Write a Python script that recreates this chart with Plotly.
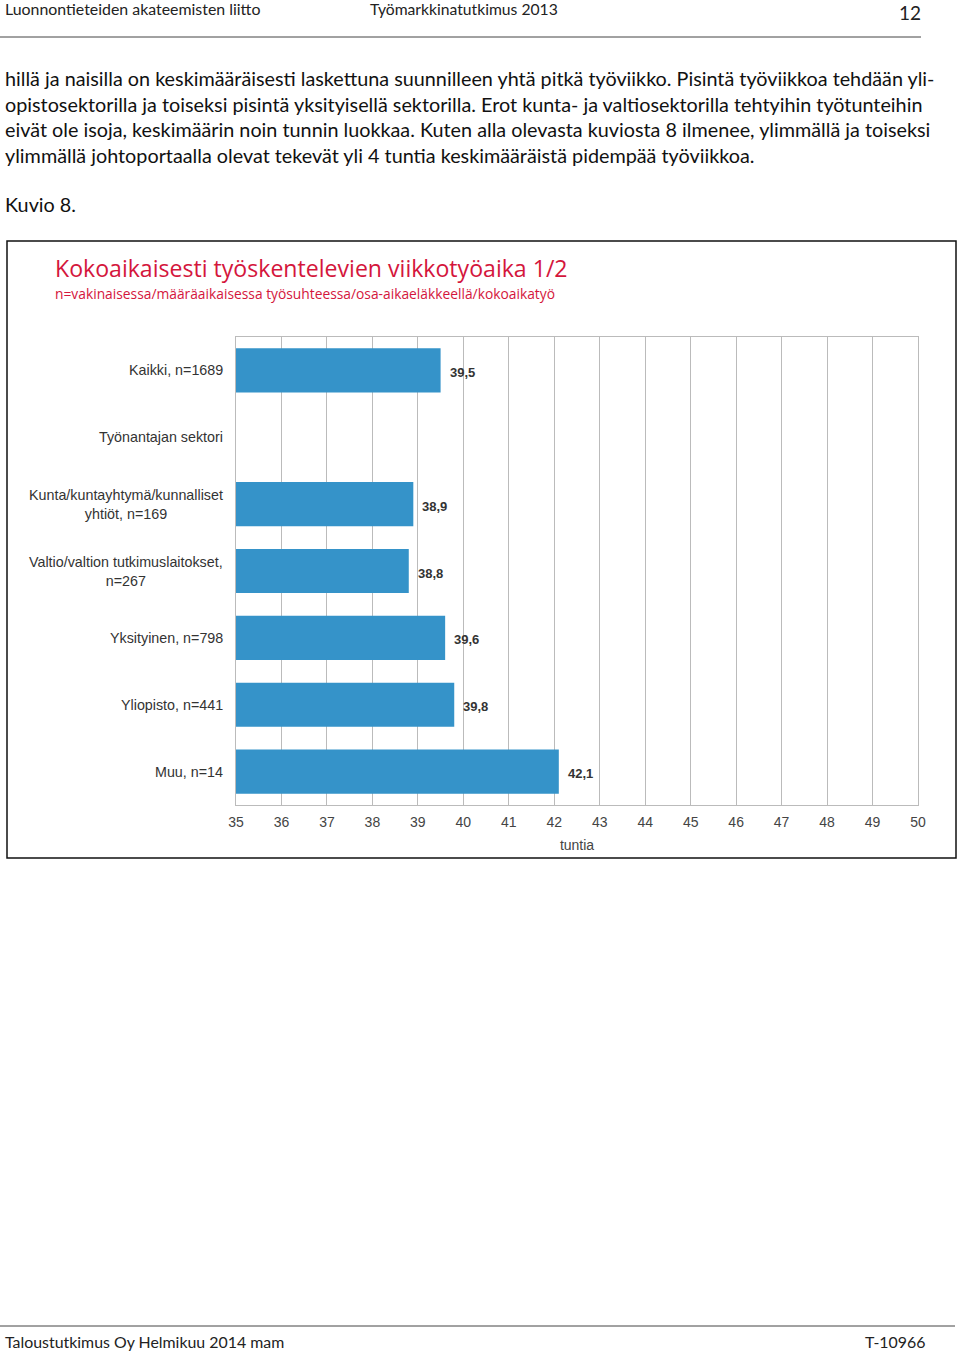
import plotly.graph_objects as go

# Data
categories = [
    "Kaikki, n=1689",
    "Työnantajan sektori",
    "Kunta/kuntayhtymä/kunnalliset<br>yhtiöt, n=169",
    "Valtio/valtion tutkimuslaitokset,<br>n=267",
    "Yksityinen, n=798",
    "Yliopisto, n=441",
    "Muu, n=14",
]
hours = [39.5, None, 38.9, 38.8, 39.6, 39.8, 42.1]
tick_values = list(range(35, 51))

paragraph = [
    "hillä ja naisilla on keskimääräisesti laskettuna suunnilleen yhtä pitkä työviikko. Pisintä työviikkoa tehdään yli-",
    "opistosektorilla ja toiseksi pisintä yksityisellä sektorilla. Erot kunta- ja valtiosektorilla tehtyihin työtunteihin",
    "eivät ole isoja, keskimäärin noin tunnin luokkaa. Kuten alla olevasta kuviosta 8 ilmenee, ylimmällä ja toiseksi",
    "ylimmällä johtoportaalla olevat tekevät yli 4 tuntia keskimääräistä pidempää työviikkoa.",
]

W, H = 960, 1352
BLUE = "#3593C9"
RED = "#D4163C"
PAGE_FONT = "Lato, Open Sans, sans-serif"
CHART_FONT = "Liberation Sans, Arial, sans-serif"


def px(x):
    return x / W


def py(y):
    return 1 - y / H


fig = go.Figure()

fig.add_trace(go.Bar(
    x=hours,
    y=categories,
    orientation="h",
    marker=dict(color=BLUE, line=dict(width=0)),
    width=0.66,
    showlegend=False,
    hoverinfo="x+y",
))

annotations = []

# value labels next to the bars
for cat, v in zip(categories, hours):
    if v is None:
        continue
    annotations.append(dict(
        x=v, y=cat, xref="x", yref="y",
        text="<b>" + f"{v:.1f}".replace(".", ",") + "</b>",
        xanchor="left", yanchor="middle", xshift=7, yshift=-2,
        showarrow=False,
        font=dict(family="Liberation Sans Narrow, " + CHART_FONT, size=13, color="#333333"),
    ))

# category labels (centered multi-line like the original)
for cat in categories:
    annotations.append(dict(
        x=px(225), y=cat, xref="paper", yref="y",
        text=cat, xanchor="right", yanchor="middle", align="center",
        showarrow=False,
        font=dict(family=CHART_FONT, size=14.3, color="#333333"),
    ))

# page header
annotations += [
    dict(x=px(3), y=py(9), text="Luonnontieteiden akateemisten liitto",
         font=dict(family=PAGE_FONT, size=15.9, color="#222222"), xanchor="left"),
    dict(x=px(368), y=py(9), text="Työmarkkinatutkimus 2013",
         font=dict(family=PAGE_FONT, size=15.7, color="#222222"), xanchor="left"),
    dict(x=px(923), y=py(12), text="12",
         font=dict(family=PAGE_FONT, size=19, color="#222222"), xanchor="right"),
]

# paragraph
for i, line in enumerate(paragraph):
    annotations.append(dict(
        x=px(3), y=py(78 + i * 25.7), text=line, xanchor="left",
        font=dict(family=PAGE_FONT, size=19.8, color="#111111"),
    ))
annotations.append(dict(
    x=px(3), y=py(204), text="Kuvio 8.", xanchor="left",
    font=dict(family=PAGE_FONT, size=19.8, color="#111111"),
))

# chart titles
annotations += [
    dict(x=px(53), y=py(268), text="Kokoaikaisesti työskentelevien viikkotyöaika 1/2",
         xanchor="left", font=dict(family="Open Sans, sans-serif", size=23.1, color=RED)),
    dict(x=px(53), y=py(293), text="n=vakinaisessa/määräaikaisessa työsuhteessa/osa-aikaeläkkeellä/kokoaikatyö",
         xanchor="left", font=dict(family="Open Sans, sans-serif", size=13.8, color=RED)),
]

# footer
annotations += [
    dict(x=px(3), y=py(1341), text="Taloustutkimus Oy Helmikuu 2014 mam", xanchor="left",
         font=dict(family=PAGE_FONT, size=15.9, color="#222222")),
    dict(x=px(927), y=py(1341), text="T-10966", xanchor="right",
         font=dict(family=PAGE_FONT, size=15.9, color="#222222")),
]

for a in annotations:
    a.setdefault("xref", "paper")
    a.setdefault("yref", "paper")
    a.setdefault("yanchor", "middle")
    a.setdefault("showarrow", False)

shapes = [
    dict(type="line", xref="paper", yref="paper", x0=0, x1=px(921), y0=py(37), y1=py(37),
         line=dict(color="#444444", width=1)),
    dict(type="line", xref="paper", yref="paper", x0=0, x1=px(955), y0=py(1326), y1=py(1326),
         line=dict(color="#444444", width=1)),
    dict(type="rect", xref="paper", yref="paper", x0=px(7), x1=px(956), y0=py(858), y1=py(241),
         line=dict(color="#111111", width=1.5)),
]

fig.update_layout(
    width=W, height=H,
    margin=dict(l=0, r=0, t=0, b=0, autoexpand=False),
    paper_bgcolor="white", plot_bgcolor="white",
    annotations=annotations,
    shapes=shapes,
    xaxis=dict(
        domain=[px(236), px(918)],
        range=[35, 50],
        tickvals=tick_values,
        ticktext=[str(t) for t in tick_values],
        showgrid=True, gridcolor="#BBBBBB", gridwidth=1,
        showline=True, linecolor="#BBBBBB", mirror=True,
        ticks="",
        ticklabelstandoff=4,
        zeroline=False,
        automargin=False,
        tickfont=dict(family=CHART_FONT, size=14, color="#444444"),
        title=dict(text="tuntia", font=dict(family=CHART_FONT, size=14, color="#444444"), standoff=11),
        fixedrange=True,
    ),
    yaxis=dict(
        domain=[py(805), py(337)],
        categoryorder="array", categoryarray=categories,
        autorange="reversed",
        showticklabels=False,
        showgrid=False,
        showline=True, linecolor="#BBBBBB", mirror=True,
        zeroline=False,
        automargin=False,
        fixedrange=True,
    ),
    bargap=0.34,
)

# the page is exactly the figure size, so drop the default body margin
fig.write_html("out.html", post_script="document.body.style.margin='0';",
               config={"displayModeBar": False})
